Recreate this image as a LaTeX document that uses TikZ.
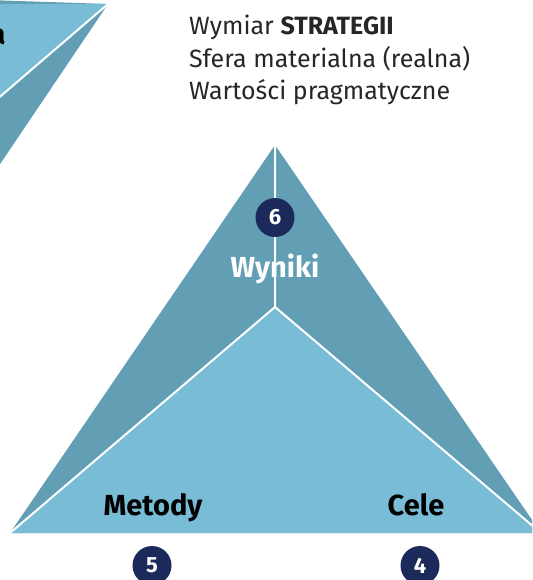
\documentclass[tikz,border=0pt]{standalone}
\usepackage{fontspec}
\setmainfont{Fira Sans}
\definecolor{faceDark}{RGB}{98,158,180}
\definecolor{faceLight}{RGB}{120,188,214}
\definecolor{navy}{RGB}{27,42,90}
\begin{document}
\begin{tikzpicture}[x=1pt,y=-1pt,
    num/.style={circle,fill=navy,text=white,inner sep=0pt,minimum size=39pt,
      font=\bfseries\fontsize{22}{22}\selectfont},
    lab/.style={anchor=base,font=\bfseries\fontsize{29}{29}\selectfont},
    line/.style={anchor=base west,inner sep=0pt,text=black!85,
      font=\fontsize{25}{25}\selectfont},
    edge/.style={white,line width=2pt}]
  \useasboundingbox (0,0) rectangle (532,580);
  \clip (0,0) rectangle (532,580);
  % the other pyramid, cut by the border
  \coordinate (Tip) at (108,4);
  \fill[faceDark] (Tip) -- (-12,182) -- (-12,0) -- cycle;
  \fill[faceLight] (Tip) -- (-12,107) -- (-12,4) -- cycle;
  \draw[edge] (Tip) -- (-12,107);
  \node[lab,anchor=base east] (Cut) at (9,45) {a};
  % pyramid of the strategy
  \coordinate (Apex) at (275,145);
  \coordinate (Mid) at (275,307);
  \coordinate (Left) at (10,533);
  \coordinate (Right) at (541,533);
  \fill[faceDark] (Apex) -- (Left) -- (Right) -- cycle;
  \fill[faceLight] (Mid) -- (Left) -- (Right) -- cycle;
  \draw[edge] (Left) -- (Mid) -- (Right) (Mid) -- (Apex);
  \node[line] (Title) at (189,35) {Wymiar \textbf{STRATEGII}};
  \node[line] (Sphere) at (189,67.5) {Sfera materialna (realna)};
  \node[line] (Values) at (189,100) {Wartości pragmatyczne};
  \node[num] (Six) at (275,217.5) {6};
  \node[lab,text=white] (Wyniki) at (275,277) {Wyniki};
  \node[lab] (Metody) at (153,515) {Metody};
  \node[lab] (Cele) at (416,515) {Cele};
  \node[num] (Five) at (152,565.5) {5};
  \node[num] (Four) at (420,565.5) {4};
\end{tikzpicture}
\end{document}
